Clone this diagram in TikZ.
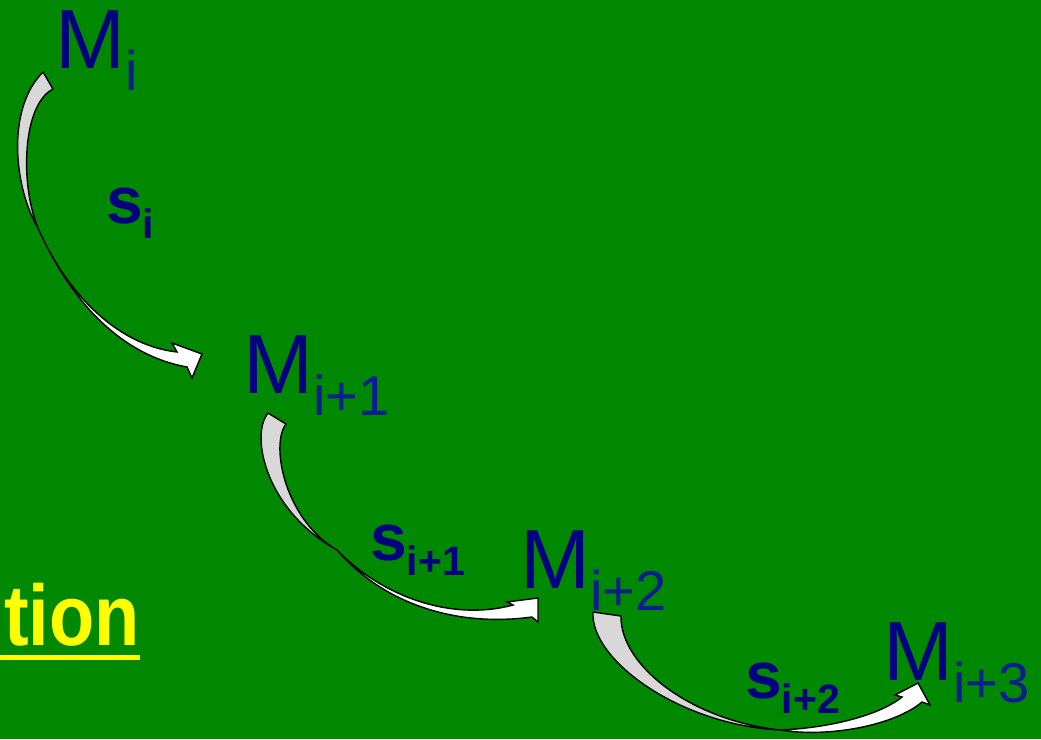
\documentclass[tikz,border=0pt]{standalone}
\usepackage{fontspec}
\setmainfont{Liberation Sans}
\definecolor{bggreen}{RGB}{0,136,0}
\definecolor{mblue}{RGB}{0,0,128}
\definecolor{subblue}{RGB}{12,28,145}
\definecolor{tailgray}{RGB}{216,216,216}
\definecolor{titleyellow}{RGB}{255,255,0}
\newcommand{\msubtxt}[1]{\raisebox{-22pt}{\color{subblue}\fontsize{56}{56}\selectfont #1}}
\newcommand{\ssubtxt}[1]{\raisebox{-15pt}{\fontsize{41}{41}\selectfont #1}}
\begin{document}
\begin{tikzpicture}[x=1pt,y=-1pt,
  mlabel/.style={anchor=base west, inner sep=0pt, text=mblue, font=\fontsize{84}{84}\selectfont},
  slabel/.style={anchor=base west, inner sep=0pt, text=mblue, font=\bfseries\fontsize{66}{66}\selectfont},
  backface/.style={fill=tailgray, draw=black, line width=1.4pt, line join=round},
  frontface/.style={fill=white, draw=black, line width=1.4pt, line join=miter},
  titletext/.style={anchor=base west, inner sep=0pt, text=titleyellow, font=\bfseries\fontsize{86}{86}\selectfont}
]
\fill[bggreen] (0,0) rectangle (1041,739);
\useasboundingbox (0,0) rectangle (1041,739);

% state labels
\node[mlabel] (m0) at (55,68) {M\msubtxt{i}};
\node[mlabel] (m1) at (243,393) {M\msubtxt{i+1}};
\node[mlabel] (m2) at (520,588) {M\msubtxt{i+2}};
\node[mlabel] (m3) at (883,680) {M\msubtxt{i+3}};

% step labels
\node[slabel] (s0) at (106,223) {s\ssubtxt{i}};
\node[slabel] (s1) at (370,560) {s\ssubtxt{i+1}};
\node[slabel] (s2) at (745,698) {s\ssubtxt{i+2}};

% partial title
\begin{scope}
\clip (0,0) rectangle (1041,739);
\node[titletext] (title) at (4,645) {\scalebox{0.86}[1]{tion}};
\fill[titleyellow] (0,655) rectangle (140,660);
\end{scope}

% arrow 1
\draw[backface] (43,72) .. controls (5,110) and (15,190) .. (38,228)
   .. controls (20,185) and (22,105) .. (53,89) -- cycle;
\draw[frontface] (38,228) .. controls (70,300) and (120,355) .. (187,367)
   -- (192,378) -- (202,354) -- (172,343) -- (177,352)
   .. controls (115,345) and (65,290) .. (38,228) -- cycle;

% arrow 2
\draw[backface] (268,413) .. controls (250,435) and (265,510) .. (337,550)
   .. controls (285,520) and (270,445) .. (286,424) -- cycle;
\draw[frontface] (337,550) .. controls (380,600) and (450,628) .. (532,617)
   -- (538,622) -- (538,598) -- (507,602) -- (513,605)
   .. controls (450,622) and (380,595) .. (337,550) -- cycle;

% arrow 3
\draw[backface] (593,612) .. controls (590,660) and (680,725) .. (780,730)
   .. controls (690,720) and (620,665) .. (621,616) -- cycle;
\draw[frontface] (780,730) .. controls (830,738) and (895,725) .. (922,702)
   -- (930,705) -- (918,683) -- (895,695) -- (902,697)
   .. controls (880,715) and (830,728) .. (780,730) -- cycle;
\end{tikzpicture}
\end{document}
